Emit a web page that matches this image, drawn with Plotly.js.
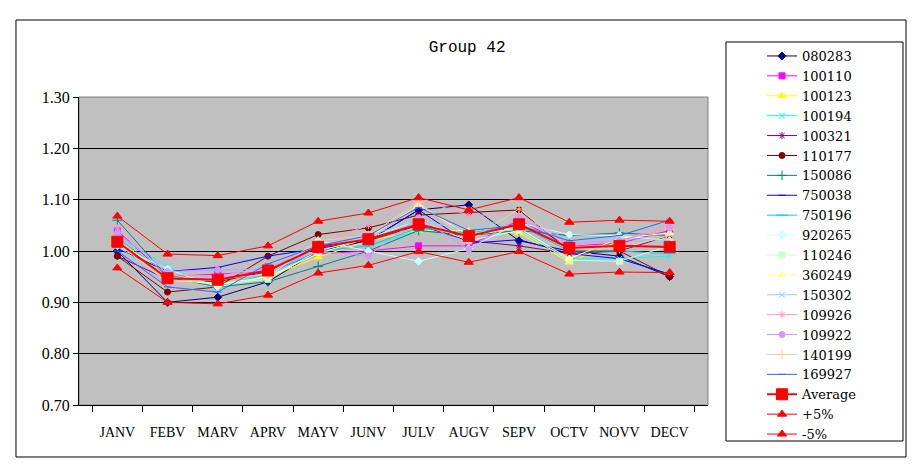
<!DOCTYPE html>
<html>
<head>
<meta charset="utf-8">
<script src="https://cdn.plot.ly/plotly-3.0.1.min.js"></script>
<style>
  body { margin: 0; background: #fff; }
  #chart { width: 919px; height: 466px; }
</style>
</head>
<body>
<div id="chart"></div>
<script>
var months = ["JANV", "FEBV", "MARV", "APRV", "MAYV", "JUNV", "JULV", "AUGV", "SEPV", "OCTV", "NOVV", "DECV"];

// values, one array per series
var s080283 = [1.000, 0.900, 0.910, 0.940, 1.000, 1.020, 1.080, 1.090, 1.020, 1.000, 0.990, 0.950];
var s100110 = [1.040, 0.950, 0.955, 0.960, 0.995, 1.000, 1.010, 1.010, 1.060, 1.010, 1.015, 1.040];
var s100123 = [1.020, 0.955, 0.935, 0.950, 0.988, 1.020, 1.040, 1.040, 1.035, 0.978, 1.020, 1.045];
var s100194 = [1.030, 0.970, 0.925, 0.960, 1.000, 1.010, 1.040, 1.030, 1.040, 0.985, 0.985, 0.990];
var s100321 = [0.990, 0.945, 0.940, 0.960, 1.010, 1.020, 1.050, 1.020, 1.010, 0.995, 1.000, 1.030];
var s110177 = [0.990, 0.920, 0.930, 0.990, 1.032, 1.045, 1.070, 1.075, 1.080, 1.000, 1.000, 0.950];
var s150086 = [1.060, 0.950, 0.930, 0.940, 0.970, 1.000, 1.040, 1.030, 1.040, 1.030, 1.035, 1.030];
var s750038 = [1.005, 0.960, 0.968, 0.990, 1.005, 1.020, 1.080, 1.015, 1.022, 0.995, 0.985, 0.955];
var s750196 = [1.025, 0.955, 0.930, 0.955, 1.000, 1.010, 1.045, 1.035, 1.050, 1.000, 1.000, 0.995];
var s920265 = [1.010, 0.965, 0.930, 0.950, 1.020, 1.000, 0.980, 1.005, 1.055, 1.032, 1.030, 1.020];
var s110246 = [1.015, 0.950, 0.935, 0.945, 1.000, 1.025, 1.060, 1.020, 1.040, 0.982, 0.980, 1.010];
var s360249 = [1.020, 0.945, 0.935, 0.950, 0.995, 1.025, 1.090, 1.030, 1.045, 0.985, 1.025, 1.035];
var s150302 = [1.010, 0.940, 0.950, 0.970, 1.010, 1.030, 1.060, 1.040, 1.070, 1.020, 1.025, 1.020];
var s109926 = [1.045, 0.955, 0.950, 0.965, 1.015, 1.050, 1.100, 1.070, 1.070, 1.010, 1.020, 1.050];
var s109922 = [1.035, 0.960, 0.963, 0.965, 1.000, 0.990, 1.065, 1.003, 1.065, 1.015, 1.020, 1.045];
var s140199 = [1.015, 0.940, 0.945, 0.955, 1.020, 1.030, 1.095, 1.020, 1.082, 1.005, 1.005, 1.030];
var s169927 = [1.000, 0.930, 0.920, 0.975, 1.010, 1.030, 1.085, 1.040, 1.050, 1.020, 1.030, 1.060];
var average = [1.018, 0.947, 0.944, 0.962, 1.008, 1.023, 1.052, 1.029, 1.052, 1.006, 1.010, 1.008];
var plus5   = [1.068, 0.994, 0.991, 1.010, 1.058, 1.074, 1.104, 1.080, 1.104, 1.056, 1.060, 1.058];
var minus5  = [0.967, 0.900, 0.897, 0.914, 0.957, 0.972, 0.999, 0.978, 0.999, 0.955, 0.959, 0.958];

function series(name, y, color, symbol, size) {
  return {
    x: months,
    y: y,
    name: name,
    type: "scatter",
    mode: "lines+markers",
    line: { color: color, width: 1 },
    marker: { symbol: symbol, size: size, color: color, line: { color: color, width: 1 } }
  };
}

var data = [
  series("080283", s080283, "#000080", "diamond", 6),
  series("100110", s100110, "#FF00FF", "square", 6),
  series("100123", s100123, "#FFFF00", "triangle-up", 7),
  series("100194", s100194, "#00FFFF", "x-thin-open", 6),
  series("100321", s100321, "#800080", "asterisk-open", 6),
  series("110177", s110177, "#800000", "circle", 6),
  series("150086", s150086, "#008080", "cross-thin-open", 7),
  series("750038", s750038, "#0000FF", "line-ew-open", 5),
  series("750196", s750196, "#00CCFF", "line-ew-open", 8),
  series("920265", s920265, "#CCFFFF", "diamond", 6),
  series("110246", s110246, "#CCFFCC", "square", 6),
  series("360249", s360249, "#FFFF99", "triangle-up", 7),
  series("150302", s150302, "#99CCFF", "x-thin-open", 6),
  series("109926", s109926, "#FF99CC", "asterisk-open", 6),
  series("109922", s109922, "#CC99FF", "circle", 6),
  series("140199", s140199, "#FFCC99", "cross-thin-open", 7),
  series("169927", s169927, "#3366FF", "line-ew-open", 5),
  series("Average", average, "#FF0000", "square", 11),
  series("+5%", plus5, "#FF0000", "triangle-up", 8),
  series("-5%", minus5, "#FF0000", "triangle-up", 8)
];
data[17].line.width = 2;

var font = "Liberation Serif, serif";

var layout = {
  width: 919,
  height: 466,
  margin: { l: 79, r: 211, t: 97, b: 61 },
  paper_bgcolor: "#FFFFFF",
  plot_bgcolor: "#C0C0C0",
  showlegend: true,
  title: {
    text: "Group 42",
    font: { family: "Liberation Mono, monospace", size: 16, color: "#000" },
    xref: "paper", x: 0.617, xanchor: "center",
    yref: "container", y: 0.901, yanchor: "middle"
  },
  xaxis: {
    type: "category",
    tickson: "boundaries",
    ticks: "outside",
    ticklen: 6,
    tickcolor: "#000",
    tickangle: 0,
    showline: true,
    linecolor: "#000",
    linewidth: 1,
    showgrid: false,
    ticklabelstandoff: 14,
    tickfont: { family: font, size: 14, color: "#000" },
    fixedrange: true
  },
  yaxis: {
    range: [0.7, 1.3],
    dtick: 0.1,
    tick0: 0.7,
    tickformat: ".2f",
    ticks: "outside",
    ticklen: 5,
    tickcolor: "#000",
    showline: true,
    linecolor: "#000",
    linewidth: 1,
    showgrid: true,
    gridcolor: "#000",
    gridwidth: 1,
    zeroline: false,
    tickfont: { family: font, size: 16, color: "#000" },
    fixedrange: true
  },
  legend: {
    x: 1.0859, xanchor: "left",
    y: 1.1818, yanchor: "top",
    maxheight: 460,
    bgcolor: "rgba(0,0,0,0)",
    borderwidth: 0,
    font: { family: "DejaVu Serif, serif", size: 13, color: "#000" },
    itemclick: false
  },
  shapes: [
    // outer chart frame
    { type: "rect", xref: "paper", yref: "paper", x0: -0.1002, x1: 1.3148, y0: -0.1688, y1: 1.25,
      line: { color: "#000", width: 1 }, layer: "below" },
    // legend box
    { type: "rect", xref: "paper", yref: "paper", x0: 1.0286, x1: 1.310, y0: -0.1169, y1: 1.1786,
      line: { color: "#000", width: 1 }, layer: "below" },
    // plot area border
    { type: "rect", xref: "paper", yref: "paper", x0: 0, x1: 1, y0: 0, y1: 1,
      line: { color: "#808080", width: 1 }, layer: "below" }
  ]
};

Plotly.newPlot("chart", data, layout, { displayModeBar: false, staticPlot: true });
</script>
</body>
</html>
